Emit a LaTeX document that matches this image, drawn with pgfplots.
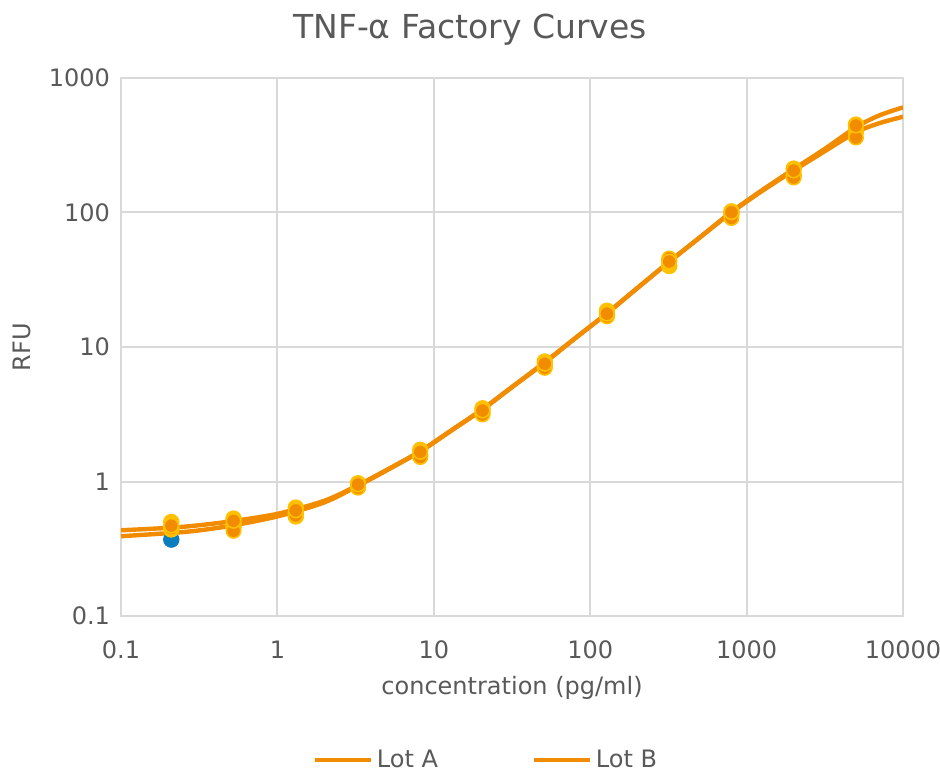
\documentclass[border=0pt]{standalone}
\usepackage{pgfplots}
\pgfplotsset{compat=1.18}
\usepackage{fontspec}
\setmainfont{DejaVu Sans}
\definecolor{lineor}{HTML}{F18B00}
\definecolor{gold}{HTML}{FFC000}
\definecolor{dblue}{HTML}{0A7DBE}
\definecolor{gridc}{HTML}{D9D9D9}
\definecolor{txt}{HTML}{595959}
\begin{document}
\begin{tikzpicture}
\path[use as bounding box] (-60.5pt,-78pt) rectangle (409.5pt,308pt);
\begin{axis}[
 at={(0,0)}, anchor=south west,
 scale only axis, width=391pt, height=269pt,
 xmode=log, ymode=log,
 xmin=0.1, xmax=10000, ymin=0.1, ymax=1000,
 xtick={0.1,1,10,100,1000,10000},
 xticklabels={0.1,1,10,100,1000,10000},
 ytick={0.1,1,10,100,1000},
 yticklabels={0.1,1,10,100,1000},
 minor xtick={}, minor ytick={},
 tick style={draw=none},
 major tick length=0pt, minor tick length=0pt,
 grid=major,
 major grid style={gridc, line width=1pt},
 axis line style={gridc, line width=1pt},
 tick label style={font=\fontsize{12}{14}\selectfont, text=txt},
 xticklabel style={yshift=-9pt},
 yticklabel style={xshift=-2pt},
 title={TNF-α Factory Curves},
 title style={font=\fontsize{16.5}{19}\selectfont, text=txt, at={(axis description cs:0.4463,1.067)}, anchor=center},
 xlabel={concentration (pg/ml)},
 xlabel style={font=\fontsize{12}{14}\selectfont, text=txt, at={(axis description cs:0.5,-0.1338)}, anchor=center},
 ylabel={RFU},
 ylabel style={font=\fontsize{12}{14}\selectfont, text=txt, at={(axis description cs:-0.1266,0.5)}, anchor=center},
 legend style={at={(axis description cs:0.468,-0.2677)}, anchor=center, draw=none, fill=none, legend columns=2, font=\fontsize{12}{14}\selectfont, text=txt, nodes={inner sep=2pt}, /tikz/every even column/.append style={column sep=45pt}},
 legend image code/.code={\draw[#1, line width=2pt] (0pt,0pt) -- (28pt,0pt);},
]
\addplot[lineor, line width=2.2pt, smooth, tension=0.5, no marks] table {
x y
0.1 0.434
0.2 0.452
0.3 0.47
0.5 0.505
1 0.575
2 0.72
3.2768 0.94
5 1.22
8.192 1.68
12.8 2.38
20.48 3.45
32 5.1
51.2 7.7
80 11.6
128 17.8
200 27.4
320 43
500 65
800 100
1250 144
2000 205
3200 288
5000 395
7000 460
10000 515
};
\addlegendentry{Lot A}
\addplot[lineor, line width=2.2pt, smooth, tension=0.5, no marks] table {
x y
0.1 0.392
0.2 0.413
0.3 0.43
0.5 0.468
1 0.55
2 0.70
3.2768 0.93
5 1.21
8.192 1.67
12.8 2.37
20.48 3.43
32 5.08
51.2 7.65
80 11.6
128 17.8
200 27.4
320 43
500 65
800 101
1250 146
2000 210
3200 300
5000 430
7000 525
10000 605
};
\addlegendentry{Lot B}
\addplot[only marks, mark=*, mark size=3.9pt, mark options={fill=dblue, draw=dblue}, forget plot] table {
x y
0.2097 0.37
};
\addplot[only marks, mark=*, mark size=3.9pt, mark options={fill=gold, draw=gold}, forget plot] table {
x y
0.2097 0.50
0.2097 0.46
0.2097 0.44
0.5243 0.53
0.5243 0.48
0.5243 0.46
1.3107 0.64
1.3107 0.58
1.3107 0.55
3.2768 0.97
3.2768 0.91
8.192 1.72
8.192 1.56
20.48 3.5
20.48 3.25
51.2 7.8
51.2 7.2
128 18.6
128 17.3
320 44
320 40
800 102
800 97
2000 212
2000 190
5000 450
5000 400
};
\addplot[only marks, mark=*, mark size=3.6pt, mark options={fill=lineor, draw=gold, line width=0.8pt}, forget plot] table {
x y
0.2097 0.45
0.2097 0.47
0.5243 0.43
0.5243 0.51
1.3107 0.56
1.3107 0.61
3.2768 0.90
3.2768 0.95
8.192 1.52
8.192 1.66
20.48 3.15
20.48 3.37
51.2 7.0
51.2 7.5
128 16.9
128 17.7
320 45.5
320 43.2
800 91
800 100.5
2000 182
2000 205
5000 361
5000 443
};
\end{axis}
\end{tikzpicture}
\end{document}
